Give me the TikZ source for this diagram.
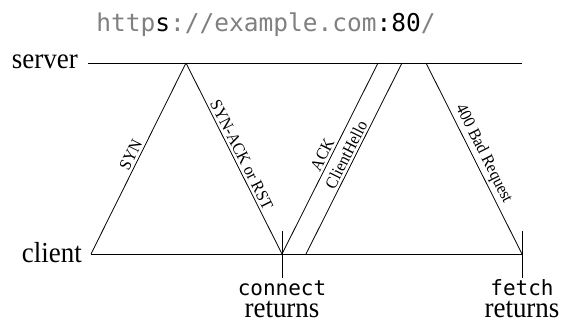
\documentclass[tikz,border=0pt]{standalone}
\usepackage{fontspec}
\setmainfont{Liberation Serif}[FakeStretch=0.93]
\newfontfamily\monofont{DejaVu Sans Mono}
\definecolor{urlgray}{RGB}{128,128,128}
\tikzset{
  timeline/.style={line width=0.8pt},
  msg/.style={line width=0.8pt},
  tick/.style={line width=0.8pt},
  msglabel/.style={sloped, above, midway, inner sep=2.5pt, font=\fontsize{17}{19}\selectfont},
  sidelabel/.style={anchor=base east, inner sep=0pt, font=\fontsize{29}{32}\selectfont},
  codelabel/.style={anchor=base, inner sep=0pt, font=\monofont\fontsize{21}{24}\selectfont},
  retlabel/.style={anchor=base, inner sep=0pt, font=\fontsize{29}{32}\selectfont},
}
\begin{document}
\begin{tikzpicture}[x=1pt,y=-1pt]
\useasboundingbox (0,0) rectangle (563,323);
% title
\node[anchor=base, inner sep=0pt, text=urlgray, font=\monofont\fontsize{24.5}{28}\selectfont] (title) at (266,32)
  {http\textcolor{black}{s}://example.com\textcolor{black}{:80}/};
% timelines
\coordinate (sL) at (88,63);
\coordinate (sR) at (522,63);
\coordinate (cL) at (91,254);
\coordinate (cR) at (522,254);
\draw[timeline] (sL) -- (sR);
\draw[timeline] (cL) -- (cR);
\node[sidelabel] (server) at (78,69) {server};
\node[sidelabel] (client) at (82,263) {client};
% message points
\coordinate (c0) at (91,254);
\coordinate (s1) at (186,63);
\coordinate (c1) at (282,254);
\coordinate (s2) at (378,63);
\coordinate (c2) at (306,254);
\coordinate (s3) at (402,63);
\coordinate (s4) at (426,63);
\coordinate (c3) at (522,254);
% messages
\draw[msg] (c0) -- node[msglabel] (syn) {SYN} (s1);
\draw[msg] (s1) -- node[msglabel] (synack) {SYN-ACK or RST} (c1);
\draw[msg] (c1) -- node[msglabel] (ack) {ACK} (s2);
\draw[msg] (c2) -- node[msglabel] (hello) {ClientHello} (s3);
\draw[msg] (s4) -- node[msglabel] (bad) {400 Bad Request} (c3);
% ticks
\coordinate (t1a) at (282,231);
\coordinate (t1b) at (282,278);
\coordinate (t2a) at (522,231);
\coordinate (t2b) at (522,278);
\draw[tick] (t1a) -- (t1b);
\draw[tick] (t2a) -- (t2b);
% bottom labels
\node[codelabel] (connect) at (282,296) {connect};
\node[retlabel] (ret1) at (282,318) {returns};
\node[codelabel] (fetch) at (522,296) {fetch};
\node[retlabel] (ret2) at (522,318) {returns};
\end{tikzpicture}
\end{document}
